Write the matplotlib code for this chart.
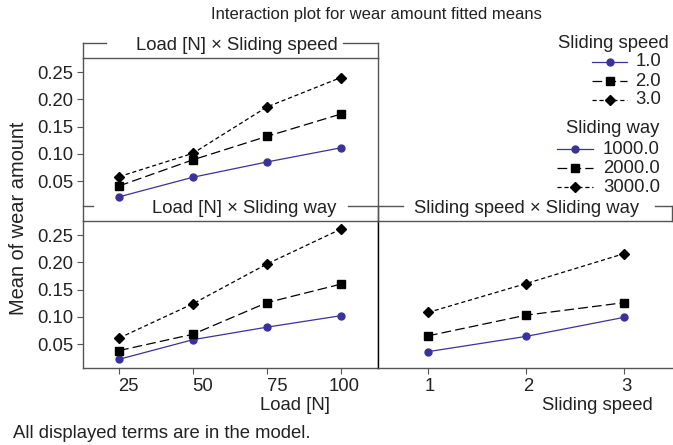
import numpy as np
import matplotlib
matplotlib.use('Agg')
import matplotlib.pyplot as plt
import matplotlib.transforms as mtrans
from matplotlib.lines import Line2D

plt.rcParams['font.family'] = ['Liberation Sans', 'DejaVu Sans']
plt.rcParams['lines.scale_dashes'] = False

# data
load = [25, 50, 75, 100]
speed = [1, 2, 3]
speed_levels = ['1.0', '2.0', '3.0']
way_levels = ['1000.0', '2000.0', '3000.0']

load_x_speed = [
    [0.021, 0.057, 0.085, 0.111],
    [0.041, 0.089, 0.132, 0.173],
    [0.058, 0.101, 0.186, 0.240],
]
load_x_way = [
    [0.022, 0.058, 0.081, 0.102],
    [0.038, 0.068, 0.126, 0.160],
    [0.061, 0.124, 0.197, 0.261],
]
speed_x_way = [
    [0.036, 0.064, 0.099],
    [0.065, 0.103, 0.126],
    [0.108, 0.161, 0.216],
]

W, H = 673, 445
fs = 13.3
txt_col = '#222222'
frame_col = '#555555'

styles = [
    dict(color='#3a329a', marker='o', ms=5, lw=0.9, ls='-'),
    dict(color='black', marker='s', ms=5.2, lw=0.9, ls=(0, (7, 3))),
    dict(color='black', marker='D', ms=5.3, lw=0.9, ls=(0, (3, 2))),
]

fig = plt.figure(figsize=(W / 100, H / 100), dpi=100)


def fx(px):
    return px / W


def fy(py):
    return 1 - py / H


def box(x0, y0, x1, y1):
    # pixel box (top-origin) -> figure fraction
    return [x0 / W, 1 - y1 / H, (x1 - x0) / W, (y1 - y0) / H]


def panel(x0, y0, x1, y1):
    ax = fig.add_axes(box(x0, y0, x1, y1))
    for s in ax.spines.values():
        s.set_color(frame_col)
        s.set_linewidth(1.0)
    ax.tick_params(labelsize=fs, labelcolor=txt_col, length=4, width=0.8,
                   direction='out', color=frame_col, pad=3)
    ax.set_ylim(0.006, 0.276)
    ax.set_yticks([0.05, 0.10, 0.15, 0.20, 0.25])
    return ax


def strip(x0, y0, x1, y1, label, text_x, gap):
    # title strip: open box whose top edge is broken around the label
    ax = fig.add_axes(box(x0, y0, x1, y1))
    ax.patch.set_alpha(0)
    ax.set_xlim(x0, x1)
    ax.set_ylim(y1, y0)
    ax.set_xticks([])
    ax.set_yticks([])
    ax.spines['bottom'].set_visible(False)
    ax.spines['top'].set_visible(False)
    for s in ['left', 'right']:
        ax.spines[s].set_color(frame_col)
        ax.spines[s].set_linewidth(1.0)
    for seg in [(x0, gap[0]), (gap[1], x1)]:
        ax.plot(seg, [y0, y0], color=frame_col, lw=1.0, clip_on=False)
    ax.text(text_x, y0 + 2.7, label, ha='center', va='center',
            fontsize=fs, color=txt_col)
    return ax


ax1 = panel(83, 58, 378, 205)
ax2 = panel(83, 221, 378, 368)
ax3 = panel(378, 221, 672, 368)

for i in range(3):
    ax1.plot(load, load_x_speed[i], **styles[i])
    ax2.plot(load, load_x_way[i], **styles[i])
    ax3.plot(speed, speed_x_way[i], **styles[i])

ylabels = ['0.05', '0.10', '0.15', '0.20', '0.25']
ax1.set_xlim(12.8, 112.6)
ax1.set_xticks([])
ax1.set_yticklabels(ylabels)
ax1.spines['bottom'].set_visible(False)
ax2.set_xlim(12.8, 112.6)
ax2.set_xticks(load)
ax2.set_yticklabels(ylabels)
ax3.set_xlim(0.49, 3.49)
ax3.set_xticks(speed)
ax3.tick_params(axis='y', left=False, labelleft=False)
ax3.spines['left'].set_color('black')
ax3.spines['right'].set_visible(False)

# the reference draws the load labels a little right of their ticks
for lab, dx in zip(ax2.get_xticklabels(), [9, 10, 10, 3.5]):
    lab.set_transform(lab.get_transform() +
                      mtrans.ScaledTranslation(dx / 100, 0, fig.dpi_scale_trans))
for lab in ax3.get_xticklabels():
    lab.set_transform(lab.get_transform() +
                      mtrans.ScaledTranslation(2 / 100, 0, fig.dpi_scale_trans))

strip(83, 43, 378, 58, 'Load [N] × Sliding speed', 237, (106, 343))
strip(83, 206, 378, 221, 'Load [N] × Sliding way', 244, (93, 348))
strip(378, 206, 672, 221, 'Sliding speed × Sliding way', 527, (403, 655))

fig.text(fx(376), fy(14), 'Interaction plot for wear amount fitted means',
         ha='center', va='center', fontsize=12, color=txt_col)
fig.text(fx(19), fy(218), 'Mean of wear amount', rotation=90,
         ha='center', va='center', fontsize=14.4, color=txt_col)
fig.text(fx(330), fy(405), 'Load [N]', ha='right', va='center',
         fontsize=fs, color=txt_col)
fig.text(fx(653), fy(405), 'Sliding speed', ha='right', va='center',
         fontsize=fs, color=txt_col)
fig.text(fx(13), fy(433), 'All displayed terms are in the model.',
         ha='left', va='center', fontsize=fs, color=txt_col)


# legends, laid out by hand to get the tight Minitab row spacing
def legend_block(title, labels, title_right, title_y, text_right, rows_y,
                 h0, h1):
    fig.text(fx(title_right), fy(title_y), title, ha='right', va='center',
             fontsize=fs, color=txt_col)
    for st, lab, yy in zip(styles, labels, rows_y):
        ln = Line2D([fx(h0), fx(h1)], [fy(yy), fy(yy)],
                    transform=fig.transFigure, color=st['color'],
                    lw=st['lw'], ls=st['ls'])
        mk = Line2D([fx((h0 + h1) / 2)], [fy(yy)], transform=fig.transFigure,
                    color=st['color'], marker=st['marker'],
                    ms=st['ms'], ls='none')
        fig.add_artist(ln)
        fig.add_artist(mk)
        fig.text(fx(text_right), fy(yy), lab, ha='right', va='center',
                 fontsize=fs, color=txt_col)


legend_block('Sliding speed', speed_levels, 669, 43, 661, [62, 81, 100],
             592, 627)
legend_block('Sliding way', way_levels, 659, 128, 660, [149, 168, 187],
             557, 593)

fig.savefig('out.png', dpi=100)
